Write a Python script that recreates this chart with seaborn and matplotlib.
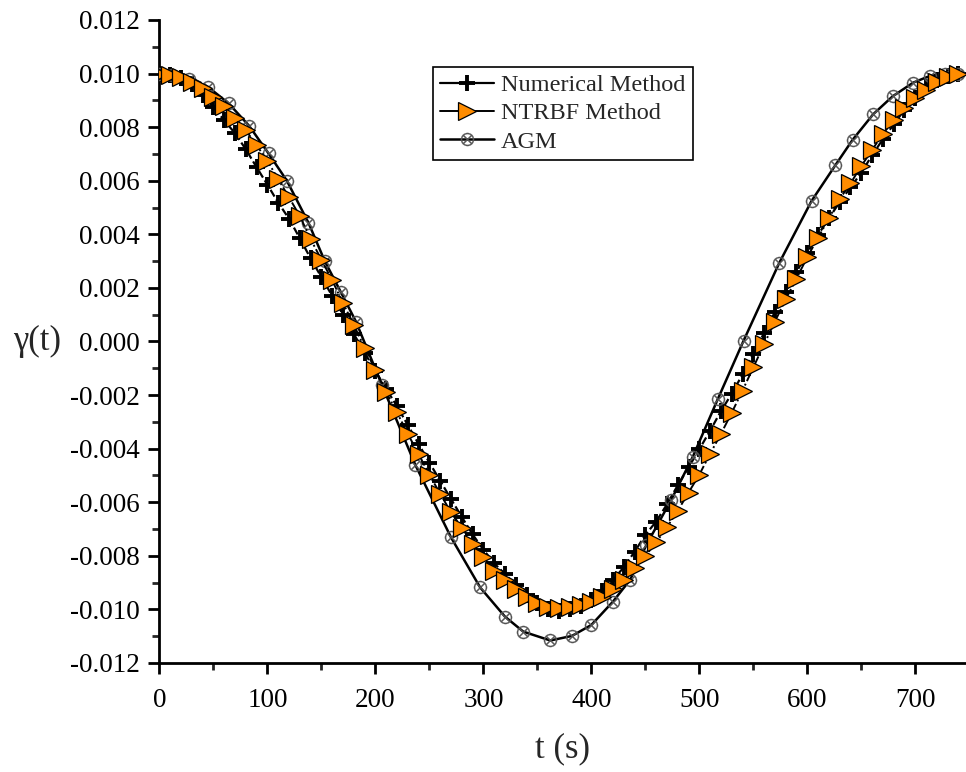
import numpy as np
import pandas as pd
import matplotlib
matplotlib.use("Agg")
import matplotlib.pyplot as plt
import seaborn as sns
from matplotlib.ticker import MultipleLocator, FuncFormatter

# ---- data (values in units of 1e-3) ----
t_grid = list(range(0, 750, 10))
numerical = [10.0, 9.95, 9.82, 9.6, 9.2, 8.75, 8.25, 7.77, 7.17, 6.5,
             5.85, 5.18, 4.58, 3.85, 3.1, 2.4, 1.7, 1.0, 0.28, -0.42,
             -1.1, -1.77, -2.42, -3.12, -3.83, -4.52, -5.2, -5.88, -6.55, -7.2,
             -7.77, -8.28, -8.68, -9.1, -9.45, -9.75, -9.98, -10.05, -10.0, -9.88,
             -9.65, -9.3, -8.9, -8.43, -7.85, -7.22, -6.72, -6.08, -5.37, -4.7,
             -4.02, -3.33, -2.6, -1.95, -1.23, -0.45, 0.32, 1.1, 1.85, 2.6,
             3.3, 3.98, 4.6, 5.2, 5.75, 6.3, 6.95, 7.55, 8.1, 8.65,
             9.1, 9.5, 9.75, 9.92, 10.0]
ntrbf = [10.0, 9.95, 9.86, 9.7, 9.47, 9.12, 8.78, 8.35, 7.88, 7.32,
         6.74, 6.05, 5.38, 4.68, 3.82, 3.05, 2.28, 1.43, 0.62, -0.24,
         -1.07, -1.9, -2.65, -3.45, -4.2, -4.98, -5.68, -6.38, -6.95, -7.54,
         -8.05, -8.55, -8.92, -9.25, -9.55, -9.76, -9.92, -9.96, -9.92, -9.84,
         -9.71, -9.52, -9.22, -8.9, -8.47, -8.0, -7.5, -6.93, -6.32, -5.64,
         -4.97, -4.19, -3.45, -2.66, -1.83, -0.97, -0.1, 0.74, 1.58, 2.35,
         3.15, 3.87, 4.6, 5.32, 5.9, 6.55, 7.15, 7.75, 8.25, 8.7,
         9.08, 9.4, 9.68, 9.88, 10.0]
agm_t = [0, 12, 27, 45, 64, 83, 101, 118, 138, 153, 168, 182, 206, 237, 270,
         297, 320, 337, 362, 382, 400, 420, 436, 451, 474, 494, 517, 541,
         574, 604, 626, 642, 661, 679, 698, 714, 728, 740]
agm = [10.0, 9.95, 9.8, 9.5, 8.89, 8.05, 7.02, 6.0, 4.43, 3.01, 1.84, 0.74,
       -1.62, -4.61, -7.31, -9.18, -10.27, -10.83, -11.16, -10.99, -10.58,
       -9.71, -8.89, -7.59, -5.91, -4.3, -2.16, 0.03, 2.93, 5.25, 6.58, 7.53,
       8.48, 9.15, 9.66, 9.92, 9.98, 10.0]

df_num = pd.DataFrame({"t": t_grid, "g": np.array(numerical) * 1e-3})
df_ntr = pd.DataFrame({"t": t_grid, "g": np.array(ntrbf) * 1e-3})
df_agm = pd.DataFrame({"t": agm_t, "g": np.array(agm) * 1e-3})

sns.set_style("ticks")
plt.rcParams["font.family"] = ["Liberation Serif", "DejaVu Serif"]
plt.rcParams["mathtext.fontset"] = "stix"
plt.rcParams["axes.unicode_minus"] = False

fig = plt.figure(figsize=(9.66, 7.72), dpi=100)
ax = fig.add_axes([0.1651, 0.1412, 0.8349, 0.8329])

sns.lineplot(data=df_num, x="t", y="g", ax=ax, color="black", linestyle=(0, (3.5, 1.5)),
             linewidth=1.6, marker="+", markersize=12, markeredgewidth=2.8,
             markeredgecolor="black", label="Numerical Method", zorder=3)
sns.lineplot(data=df_agm, x="t", y="g", ax=ax, color="black", linestyle="-",
             linewidth=1.8, marker=r"$\otimes$", markersize=9.5, markeredgewidth=0.2,
             markerfacecolor="#555555", markeredgecolor="#555555",
             label="AGM", zorder=4)
sns.lineplot(data=df_ntr, x="t", y="g", ax=ax, color="black", linestyle=(0, (5, 1.5, 1, 1.5)),
             linewidth=1.4, marker=">", markersize=13, markeredgewidth=0.9,
             markerfacecolor="#FF8C00", markeredgecolor="black",
             label="NTRBF Method", zorder=5)

ax.set_xlim(0, 747)
ax.set_ylim(-0.012, 0.012)
ax.xaxis.set_major_locator(MultipleLocator(100))
ax.xaxis.set_minor_locator(MultipleLocator(50))
ax.yaxis.set_major_locator(MultipleLocator(0.002))
ax.yaxis.set_minor_locator(MultipleLocator(0.001))
ax.yaxis.set_major_formatter(FuncFormatter(lambda v, p: f"{v:.3f}".replace("-0.000", "0.000")))
ax.xaxis.set_major_formatter(FuncFormatter(lambda v, p: f"{int(round(v))}"))

for s in ["top", "right"]:
    ax.spines[s].set_visible(False)
for s in ["left", "bottom"]:
    ax.spines[s].set_linewidth(2.0)
    ax.spines[s].set_color("black")

ax.tick_params(axis="both", which="major", direction="out", length=8, width=2,
               labelsize=19.5, colors="black", pad=6)
ax.tick_params(axis="both", which="minor", direction="out", length=5, width=2)
ax.tick_params(axis="x", which="major", pad=10)

ax.set_xlabel("t (s)", fontsize=25, labelpad=14)
ax.set_ylabel("γ(t)", fontsize=25, rotation=0, va="center", ha="center")
ax.yaxis.set_label_coords(-0.152, 0.5)

handles, labels = ax.get_legend_handles_labels()
order = [labels.index("Numerical Method"), labels.index("NTRBF Method"), labels.index("AGM")]
leg = ax.legend([handles[i] for i in order], [labels[i] for i in order],
                loc="upper left", bbox_to_anchor=(0.339, 0.9268), borderaxespad=0,
                fontsize=17.5, frameon=True, fancybox=False, edgecolor="black",
                handlelength=2.2, handletextpad=0.3, labelspacing=0.25,
                borderpad=0.3, framealpha=1)
leg.get_frame().set_linewidth(1.2)
for h in leg.get_lines():
    h.set_linestyle("-")

fig.savefig("out.png", dpi=100)
